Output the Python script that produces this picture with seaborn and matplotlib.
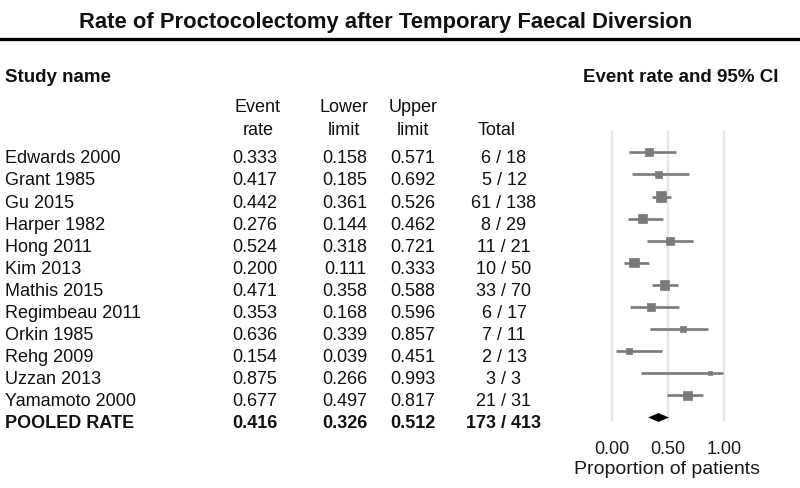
import matplotlib
matplotlib.use("Agg")
import matplotlib.pyplot as plt
import matplotlib.transforms as mtransforms
from matplotlib.lines import Line2D
import seaborn as sns
import pandas as pd

# ---------------- data ----------------
studies = ["Edwards 2000", "Grant 1985", "Gu 2015", "Harper 1982", "Hong 2011",
           "Kim 2013", "Mathis 2015", "Regimbeau 2011", "Orkin 1985", "Rehg 2009",
           "Uzzan 2013", "Yamamoto 2000"]
event_rate = [0.333, 0.417, 0.442, 0.276, 0.524, 0.200, 0.471, 0.353, 0.636, 0.154, 0.875, 0.677]
lower_limit = [0.158, 0.185, 0.361, 0.144, 0.318, 0.111, 0.358, 0.168, 0.339, 0.039, 0.266, 0.497]
upper_limit = [0.571, 0.692, 0.526, 0.462, 0.721, 0.333, 0.588, 0.596, 0.857, 0.451, 0.993, 0.817]
events = [6, 5, 61, 8, 11, 10, 33, 6, 7, 2, 3, 21]
totals = [18, 12, 138, 29, 21, 50, 70, 17, 11, 13, 3, 31]
# relative study weights (%)
weights = [8.5, 6.2, 14.0, 9.7, 8.5, 11.1, 12.4, 8.5, 5.2, 4.3, 2.1, 9.7]

pooled_label = "POOLED RATE"
pooled_rate = 0.416
pooled_lower = 0.326
pooled_upper = 0.512
pooled_events = 173
pooled_total = 413

title = "Rate of Proctocolectomy after Temporary Faecal Diversion"
tick_values = [0.0, 0.5, 1.0]
tick_labels = ["0.00", "0.50", "1.00"]
xlabel = "Proportion of patients"

df = pd.DataFrame({"study": studies, "rate": event_rate, "lo": lower_limit,
                   "hi": upper_limit, "w": weights})
df["row"] = range(len(df))

# ---------------- style ----------------
sns.set_theme(style="white")
plt.rcParams["font.family"] = ["Liberation Sans", "DejaVu Sans"]

W, H = 800, 489
fig = plt.figure(figsize=(W / 100, H / 100), dpi=100)

def fx(px):
    return px / W

def fy(py):
    return 1 - py / H

# forest axes (pixel box: left 590, right 745, top 132, bottom 423)
ax_l, ax_r, ax_t, ax_b = 590, 745, 132, 423
ax = fig.add_axes([fx(ax_l), fy(ax_b), (ax_r - ax_l) / W, (ax_b - ax_t) / H])
x0_px, x1_px = 611.5, 724.0
scale = x1_px - x0_px
ax.set_xlim(-(x0_px - ax_l) / scale, (ax_r - x0_px) / scale)
row0_px, row_step = 153.3, 22.1
ax.set_ylim((ax_b - row0_px) / row_step, (ax_t - row0_px) / row_step)

for s in ax.spines.values():
    s.set_visible(False)
ax.set_yticks([])
ax.set_xticks(tick_values)
ax.set_xticklabels(tick_labels)
ax.tick_params(axis="x", length=0, pad=13, labelsize=13, labelcolor="#1a1a1a")
ax.grid(axis="x", color="#e6e6e6", linewidth=1.6)
ax.set_axisbelow(True)

gray = "#7a7a7a"
ax.hlines(df["row"], df["lo"], df["hi"], color=gray, linewidth=1.9, zorder=2)
sns.scatterplot(data=df, x="rate", y="row", size="w", sizes=(8, 56), marker="s",
                color=gray, edgecolor=gray, linewidth=0.5, legend=False, ax=ax, zorder=3)
ax.set_ylabel("")

prow = len(studies)
h = 4.4 / row_step
ax.fill([pooled_lower, pooled_rate, pooled_upper, pooled_rate],
        [prow, prow - h, prow, prow + h], color="black", zorder=4, linewidth=0)

ax.set_xlabel(xlabel, fontsize=14, color="#1a1a1a", labelpad=2)

# ---------------- text table ----------------
blend = mtransforms.blended_transform_factory(fig.transFigure, ax.transData)
trans = mtransforms.offset_copy(blend, fig=fig, x=0, y=-10, units="dots")

fs = 13
col_name_x = 5
col_rate_x = 255
col_lo_x = 345
col_hi_x = 413
col_tot_x = 504
tc = "#111111"

for i, r in df.iterrows():
    kw = dict(transform=trans, fontsize=fs, color=tc, va="baseline")
    fig.text(fx(col_name_x), r["row"], r["study"], ha="left", **kw)
    fig.text(fx(col_rate_x), r["row"], f"{r['rate']:.3f}", ha="center", **kw)
    fig.text(fx(col_lo_x), r["row"], f"{r['lo']:.3f}", ha="center", **kw)
    fig.text(fx(col_hi_x), r["row"], f"{r['hi']:.3f}", ha="center", **kw)
    fig.text(fx(col_tot_x), r["row"], f"{events[i]} / {totals[i]}", ha="center", **kw)

kwb = dict(transform=trans, fontsize=fs, color=tc, va="baseline", fontweight="bold")
fig.text(fx(col_name_x), prow, pooled_label, ha="left", **kwb)
fig.text(fx(col_rate_x), prow, f"{pooled_rate:.3f}", ha="center", **kwb)
fig.text(fx(col_lo_x), prow, f"{pooled_lower:.3f}", ha="center", **kwb)
fig.text(fx(col_hi_x), prow, f"{pooled_upper:.3f}", ha="center", **kwb)
fig.text(fx(col_tot_x), prow, f"{pooled_events} / {pooled_total}", ha="center", **kwb)

# headers
fig.text(fx(385.5), fy(28), title, ha="center", va="baseline", fontsize=15.8,
         fontweight="bold", color=tc)
fig.add_artist(Line2D([0, 1], [fy(39.5), fy(39.5)], color="black", linewidth=2.4,
                      transform=fig.transFigure))
fig.text(fx(5), fy(82), "Study name", ha="left", va="baseline", fontsize=13.5,
         fontweight="bold", color=tc)
fig.text(fx(583), fy(82), "Event rate and 95% CI", ha="left", va="baseline",
         fontsize=13.5, fontweight="bold", color=tc)
hk = dict(ha="center", va="baseline", fontsize=fs, color=tc)
fig.text(fx(258), fy(112), "Event", **hk)
fig.text(fx(258), fy(135), "rate", **hk)
fig.text(fx(344), fy(112), "Lower", **hk)
fig.text(fx(344), fy(135), "limit", **hk)
fig.text(fx(413), fy(112), "Upper", **hk)
fig.text(fx(413), fy(135), "limit", **hk)
fig.text(fx(497), fy(135), "Total", **hk)

fig.savefig("out.png", dpi=100, facecolor="white")
